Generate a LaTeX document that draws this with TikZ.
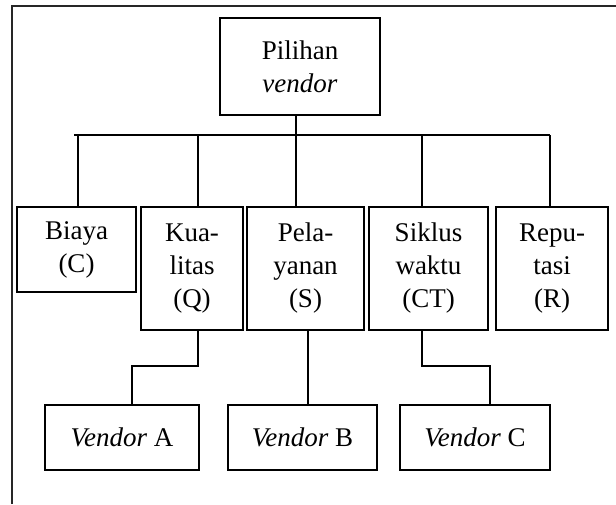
\documentclass[tikz,border=0pt]{standalone}
\usepackage{fontspec}
\setmainfont{Liberation Serif}
\usepackage{tikz}
\usetikzlibrary{calc, positioning}

\begin{document}
\begin{tikzpicture}[x=1pt, y=-1pt, line width=1.6pt,
    kotak/.style={draw, align=center, inner sep=0pt, font=\fontsize{27}{33}\selectfont}]

    \useasboundingbox (0,0) rectangle (616,504);

    % =================================================================
    % 1. BINGKAI LUAR (hanya sisi atas dan kiri)
    % =================================================================
    \coordinate (FrameBL) at (12,504);
    \coordinate (FrameTL) at (12,6);
    \coordinate (FrameTR) at (616,6);
    \draw[black!85] (FrameBL) -- (FrameTL) -- (FrameTR);

    % =================================================================
    % 2. KOTAK-KOTAK
    % =================================================================
    % Tujuan
    \node[kotak, minimum width=160pt, minimum height=97pt] (pilihan) at (300,66.5) {Pilihan\\\textit{vendor}};

    % Kriteria
    \node[kotak, minimum width=119pt, minimum height=85pt] (biaya) at (76.5,249.5) {Biaya\\(C)};
    \node[kotak, minimum width=102pt, minimum height=123pt] (kualitas) at (192,268.5) {Kua-\\litas\\(Q)};
    \node[kotak, minimum width=117pt, minimum height=123pt] (pelayanan) at (305.5,268.5) {Pela-\\yanan\\(S)};
    \node[kotak, minimum width=119pt, minimum height=123pt] (siklus) at (428.5,268.5) {Siklus\\waktu\\(CT)};
    \node[kotak, minimum width=112pt, minimum height=123pt] (reputasi) at (552,268.5) {Repu-\\tasi\\(R)};

    % Alternatif
    \node[kotak, minimum width=154pt, minimum height=65pt] (vendorA) at (122,437.5) {\textit{Vendor} A};
    \node[kotak, minimum width=149pt, minimum height=65pt] (vendorB) at (302.5,437.5) {\textit{Vendor} B};
    \node[kotak, minimum width=150pt, minimum height=65pt] (vendorC) at (475,437.5) {\textit{Vendor} C};

    % =================================================================
    % 3. GARIS PENGHUBUNG
    % =================================================================
    % Garis mendatar utama
    \coordinate (BusL) at (74,135);
    \coordinate (BusR) at (550,135);
    \draw (BusL) -- (BusR);

    % Tujuan ke kriteria tengah
    \draw ([xshift=-4pt]pilihan.south) -- ([xshift=-4pt]pilihan.south |- pelayanan.north);

    % Garis turun ke kriteria lain
    \foreach \nama/\geser in {biaya/1.5, kualitas/6, siklus/-6.5, reputasi/-2}
        \draw ([xshift=\geser pt]\nama.north |- BusL) -- ([xshift=\geser pt]\nama.north);

    % Kriteria ke alternatif
    \coordinate (BelokA) at (132,366);
    \coordinate (BelokC) at (490,366);
    \draw ([xshift=6pt]kualitas.south) |- (BelokA) -- (BelokA |- vendorA.north);
    \draw ([xshift=2.5pt]pelayanan.south) -- ([xshift=2.5pt]pelayanan.south |- vendorB.north);
    \draw ([xshift=-6.5pt]siklus.south) |- (BelokC) -- (BelokC |- vendorC.north);

\end{tikzpicture}
\end{document}
